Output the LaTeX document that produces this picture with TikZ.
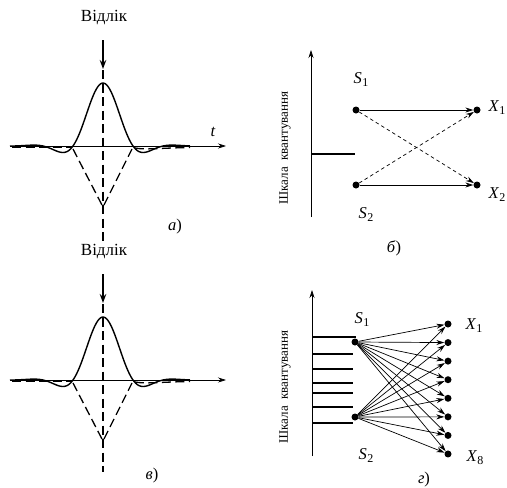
\documentclass[tikz,border=0pt]{standalone}
\usepackage{fontspec}
\setmainfont{Liberation Serif}
\usetikzlibrary{arrows.meta}
\newcommand{\sublab}[2]{\textit{#1}\kern0.3pt\raisebox{-0.4ex}{\fontsize{12}{13}\selectfont #2}}
\begin{document}
\begin{tikzpicture}[x=1pt,y=-1pt,
  txt/.style={font=\fontsize{17}{19}\selectfont, inner sep=0pt},
  lab/.style={font=\fontsize{16.5}{18}\selectfont, inner sep=0pt},
  scalelab/.style={font=\fontsize{13}{15}\selectfont, inner sep=0pt, rotate=90},
  axisline/.style={line width=0.6pt, -{Stealth[length=8pt,width=5pt]}},
  pulse/.style={line width=1.4pt},
  longdash/.style={line width=1.3pt, dash pattern=on 9pt off 4.5pt},
  dot/.style={circle, fill, inner sep=0pt, minimum size=7pt},
  arr/.style={line width=0.7pt, -{Stealth[length=8pt,width=5pt]}},
  shortdash/.style={dash pattern=on 3.5pt off 3pt},
  level/.style={line width=1.2pt},
  pulsepanel/.pic={
    \node[txt] (vidl) at (104,18) {Відлік};
    \coordinate (atop) at (103,40);
    \coordinate (atip) at (103,69);
    \draw[line width=1.9pt, -{Stealth[length=9pt,width=6.5pt]}] (atop) -- (atip);
    \coordinate (axl) at (10,146);
    \coordinate (axr) at (226,146);
    \draw[axisline] (axl) -- (axr);
    \draw[pulse] plot[domain=-3.1:2.9, samples=120, smooth]
      ({103+30*\x}, {146-63*sin(deg(pi*(\x+0.0001)))/(pi*(\x+0.0001))*exp(-(\x/1.6)^2)});
    \draw[longdash] (12,147.5) -- (72,147.5);
    \draw[longdash] (73,149) -- (103,207) -- (132,149);
    \draw[longdash] (135,148) .. controls (145,150) and (160,148) .. (190,147.5);
  }
]
\useasboundingbox (0,0) rectangle (507,488);

% panel a
\pic (pa) at (0,0) {pulsepanel};
\coordinate (dva) at (103,70);
\coordinate (dvb) at (103,243);
\draw[longdash] (dva) -- (dvb);
\node[lab] (tlab) at (213,132) {\textit{t}};
\node[lab] (la) at (175,227) {\textit{а})};

% panel c
\pic (pc) at (0,234) {pulsepanel};
\coordinate (dvc) at (103,304);
\coordinate (dvd) at (103,472);
\draw[longdash] (dvc) -- (dvd);
\node[lab] (lc) at (152,476) {\textit{в})};

% panel b
\coordinate (b0) at (311,217);
\coordinate (b1) at (311,50);
\draw[axisline] (b0) -- (b1);
\coordinate (bl0) at (311,154);
\coordinate (bl1) at (355,154);
\draw[level] (bl0) -- (bl1);
\node[scalelab] (bsc) at (285,148) {Шкала\ \ квантування};
\node[dot] (s1) at (356,110) {};
\node[dot] (s2) at (356,185) {};
\node[dot] (x1) at (477,110) {};
\node[dot] (x2) at (477,185) {};
\draw[arr] (s1) -- (x1);
\draw[arr] (s2) -- (x2);
\draw[arr, shortdash] (s1) -- (x2);
\draw[arr, shortdash] (s2) -- (x1);
\node[lab] (s1l) at (361,80) {\sublab{S}{1}};
\node[lab] (s2l) at (366,215) {\sublab{S}{2}};
\node[lab] (x1l) at (497,108) {\sublab{X}{1}};
\node[lab] (x2l) at (497,195) {\sublab{X}{2}};
\node[lab] (lb) at (394,248) {\textit{б})};

% panel d
\coordinate (d0) at (312,456);
\coordinate (d1) at (312,290);
\draw[axisline] (d0) -- (d1);
\foreach \yy/\xe [count=\i] in {337/356,354/353,369/353,383/353,393/353,407/353,423/353}{
  \coordinate (ll\i) at (312,\yy);
  \coordinate (lr\i) at (\xe,\yy);
  \draw[level] (ll\i) -- (lr\i);
}
\node[scalelab] (dsc) at (285,387) {Шкала\ \ квантування};
\node[dot] (t1) at (355,342) {};
\node[dot] (t2) at (355,417) {};
\foreach \i in {1,...,8}{
  \node[dot] (y\i) at (448,{324+(\i-1)*18.57}) {};
}
\foreach \i in {1,...,8}{
  \draw[arr] (t1) -- (y\i);
  \draw[arr] (t2) -- (y\i);
}
\node[lab] (t1l) at (362,320) {\sublab{S}{1}};
\node[lab] (t2l) at (366,456) {\sublab{S}{2}};
\node[lab] (y1l) at (474,326) {\sublab{X}{1}};
\node[lab] (y8l) at (475,458) {\sublab{X}{8}};
\node[lab] (ld) at (424,480) {\textit{г})};
\end{tikzpicture}
\end{document}
